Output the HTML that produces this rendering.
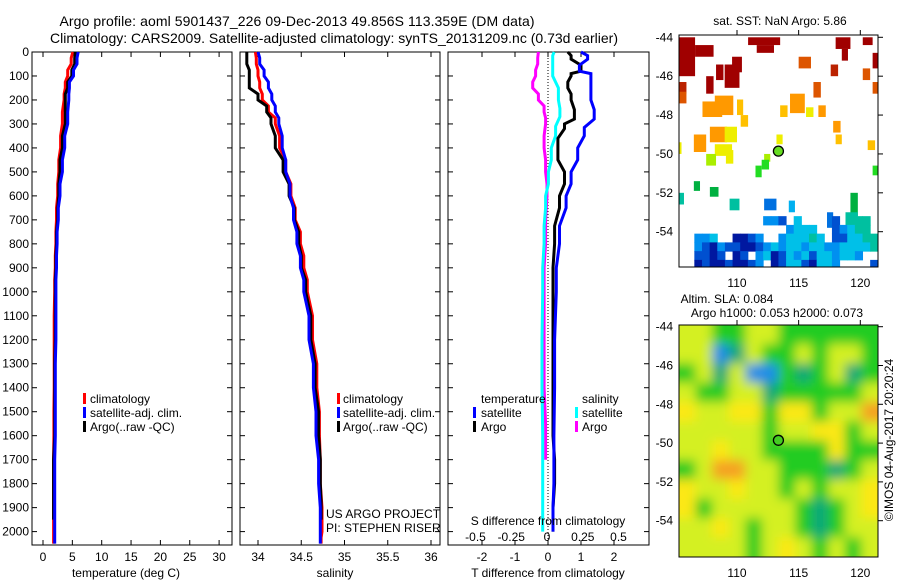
<!DOCTYPE html>
<html><head><meta charset="utf-8">
<style>
html,body{margin:0;padding:0;background:#fff;}
svg{display:block;font-family:"Liberation Sans",sans-serif;}
text{fill:#000;}
</style></head>
<body>
<svg id="fig" width="900" height="580" viewBox="0 0 900 580">
<defs>
<filter id="blur" x="-10%" y="-10%" width="120%" height="120%"><feGaussianBlur stdDeviation="5.5"/></filter>
<clipPath id="clipTop"><rect x="679" y="35" width="199" height="232"/></clipPath>
<clipPath id="clipBot"><rect x="679" y="325" width="199" height="232"/></clipPath>
</defs>
<text x="297" y="26" font-size="14" text-anchor="middle" textLength="475">Argo profile: aoml 5901437_226 09-Dec-2013 49.856S 113.359E (DM data)</text>
<text x="334" y="43" font-size="14" text-anchor="middle" textLength="568">Climatology: CARS2009. Satellite-adjusted climatology: synTS_20131209.nc (0.73d earlier)</text>
<g id="g"></g>
</svg>
<script>
// ---------- data ----------
const depthT = [0,50,100,150,200,300,400,500,600,700,800,900,1000,1200,1400,1600,1800,2000,2050];
const climT  = [5.1,4.8,4.2,3.8,3.6,3.3,3.0,2.7,2.5,2.3,2.2,2.1,2.0,1.9,1.9,1.85,1.8,1.8,1.8];
const satT   = [6.0,5.8,5.2,4.5,4.4,4.2,3.7,3.3,2.9,2.6,2.4,2.3,2.2,2.2,2.1,2.1,2.0,2.0,2.0];
const argoTdepth = [0,50,100,150,200,300,400,500,600,700,800,900,1000,1200,1400,1600,1800,1950];
const argoT  = [5.5,5.4,4.9,4.2,3.8,3.8,3.3,2.9,2.7,2.5,2.3,2.2,2.1,2.1,2.0,2.0,1.8,1.8];
const depthS = [0,50,100,150,200,250,300,400,500,600,700,800,900,1000,1200,1400,1600,1800,2000,2050];
const climS  = [33.97,33.98,34.0,34.02,34.05,34.12,34.2,34.25,34.32,34.38,34.43,34.49,34.53,34.57,34.63,34.68,34.71,34.72,34.74,34.73];
const satS   = [34.0,34.02,34.07,34.12,34.16,34.2,34.24,34.28,34.32,34.37,34.41,34.45,34.49,34.53,34.59,34.64,34.67,34.70,34.72,34.72];
const argoSdepth = [0,50,100,150,200,250,300,400,500,600,700,800,900,1000,1200,1400,1600,1800,1950];
const argoS  = [33.87,33.87,33.9,33.9,34.0,34.1,34.15,34.2,34.29,34.36,34.42,34.47,34.5,34.55,34.61,34.66,34.7,34.72,34.73];
const dDepthSatT = [0,30,80,100,200,280,350,450,550,650,800,1000,1400,1800,2000];
const dSatT  = [1.0,1.2,0.95,1.3,1.3,1.4,1.1,0.9,0.7,0.55,0.35,0.25,0.2,0.18,0.15];
const dDepthArgoT = [0,30,80,100,150,200,280,320,400,450,550,650,800,1000,1600,1800,2000];
const dArgoT = [0.6,0.7,1.0,0.7,0.6,0.7,0.8,0.5,0.3,0.3,0.5,0.35,0.2,0.15,0.15,0.2,0.15];
const dDepthSatS = [0,30,100,200,270,350,450,550,650,800,1000,1400,1800,2000];
const dSatS  = [0.05,0.04,0.04,0.08,0.09,0.06,0.03,0.01,-0.01,-0.02,-0.03,-0.035,-0.03,-0.03];
const dDepthArgoS = [0,50,100,150,200,250,300,400,500,600,800,1000,1400,1700];
const dArgoS = [-0.06,-0.065,-0.08,-0.1,-0.06,-0.02,-0.01,-0.02,-0.01,0,-0.01,-0.02,-0.02,-0.01];
const depthTicks = [0,100,200,300,400,500,600,700,800,900,1000,1100,1200,1300,1400,1500,1600,1700,1800,1900,2000];
const tempTicks = [0,5,10,15,20,25,30];
const salTicks = [34,34.5,35,35.5,36];
const salTickLabels = ["34","34.5","35","35.5","36"];
const dTTicks = [-2,-1,0,1,2];
const dSTicks = [-0.5,-0.25,0,0.25,0.5];
const dSTickLabels = ["-0.5","-0.25","0","0.25","0.5"];
const latTicks = [-44,-46,-48,-50,-52,-54];
const lonTicks = [110,115,120];
const argoLon = 113.359, argoLat = -49.856;
// SST blocks: lon, lat(top), width deg, height deg, SST value
const sstLon = [105.3,106.6,108.3,109,109.6,107.5,105.3,110.9,111.6,118,120.2,118.5,121,117.6,115,116.2,120.2,121,105.3,107.2,108.2,114.3,113.5,116.6,117.8,106.5,107.8,110,110.3,115.6,118,120.6,109,108.2,109.1,113.2,105.3,112.2,107.5,111.5,112.0,121,106.5,107.8,119.2,105.3,109.4,118.8,120.8,112.2,114.2,117.3];
const sstLat = [-44,-44.4,-45.4,-45.4,-45,-46.0,-46.3,-44,-44.4,-44,-44,-44.6,-44.8,-45.4,-45,-46.3,-45.6,-46.3,-46.8,-47.3,-47,-46.9,-47.5,-47.5,-48.3,-49,-48.6,-47.2,-48.0,-47.6,-49,-49.3,-48.6,-49.5,-49.8,-49.0,-49.4,-50.0,-50.0,-50.6,-50.3,-50.6,-51.4,-51.7,-52.0,-52.0,-52.3,-53,-54.3,-52.3,-52.4,-53];
const sstW = [1.3,1.5,0.6,1.2,0.8,0.6,0.6,2.6,1.4,1.2,0.8,0.5,0.5,0.6,1,0.6,0.6,0.5,0.6,1.6,1.5,1.2,0.6,0.6,0.6,1,1.4,0.5,0.6,0.6,0.5,0.6,1.0,1.4,0.6,0.5,0.2,0.5,0.8,0.5,0.6,0.4,0.5,0.7,0.6,0.4,0.8,1.0,0.6,1.0,0.5,0.5];
const sstH = [2.0,0.6,0.8,1.2,0.8,0.9,0.6,0.4,0.4,0.6,0.4,0.6,0.8,0.6,0.6,0.8,0.6,0.6,0.6,0.8,1.0,1.0,0.6,0.6,0.6,0.9,0.8,0.8,0.6,0.5,0.5,0.5,0.8,0.6,0.7,0.5,0.6,0.4,0.6,0.6,0.5,0.5,0.5,0.5,1.2,0.6,0.6,1.0,0.6,0.6,0.6,0.8];
const sstVal = [9.5,9.5,9.5,9.5,9.5,9.5,9,9.5,9.5,9.5,9.5,9.5,9.5,9,8.3,8.2,8.3,8.3,8.3,7.5,7.6,7.6,7.3,7.4,7.5,7.4,7.5,7.2,7.1,7,7.1,7.1,7,7,6.8,6.7,6.7,6.4,6.3,5.8,5.9,5.8,5.7,5.6,5.5,5.2,5.2,5.1,5,4.3,4.4,4];
// southern SST speckle grid (0=no data, 1 coldest .. 5 warmest class), rows from lat -53.2 southward
const sstSpeckle = [
 [0,0,0,0,0,0,0,0,0,0,0,3,3,2,0,4,0,0,0,0,2,0,5,5,5,0],
 [0,0,0,0,0,0,0,0,0,0,0,0,0,0,3,4,4,4,0,0,2,3,4,5,5,0],
 [0,0,3,3,4,0,0,1,1,2,3,0,0,3,4,4,4,5,4,0,2,2,4,4,5,5],
 [0,0,3,2,1,3,2,2,1,1,2,3,4,3,4,4,3,4,4,3,3,4,4,4,4,5],
 [0,0,2,2,1,2,0,1,2,0,3,4,1,2,4,3,4,2,4,4,3,4,4,3,0,0],
 [0,0,1,2,1,1,2,1,1,2,3,0,1,2,4,4,2,1,4,4,3,0,0,0,0,2]
];
// SLA grid (rows from north to south, columns west to east), anomaly classes
const slaRows = [
 [1,1,0,0,1,1,0,0,0,0,0,0],
 [1,1,-2,-1,1,0,0,1,0,1,1,0],
 [0,1,-1,1,-2,-2,0,-1,0,1,-1,0],
 [1,0,0,1,1,-1,0,0,0,0,0,1],
 [2,1,1,2,2,0,2,2,0,1,1,3],
 [1,1,1,1,1,0,1,1,2,2,0,1],
 [1,1,2,1,1,0,0,0,0,2,0,0],
 [0,1,3,3,1,1,0,0,0,-1,0,1],
 [2,1,1,2,1,1,0,1,0,1,1,2],
 [2,0,1,1,1,1,1,0,-1,0,1,2],
 [1,1,2,1,0,1,1,0,-1,0,1,1],
 [1,1,1,1,0,1,2,1,0,1,0,1]
];

// ---------- helpers ----------
const NS='http://www.w3.org/2000/svg';
const G=document.getElementById('g');
function mk(tag,attrs,parent){const e=document.createElementNS(NS,tag);for(const k in attrs)e.setAttribute(k,attrs[k]);(parent||G).appendChild(e);return e;}
const yD = d => 52 + d*0.2398;
const xT = v => 43 + v*5.87;
const xS = v => 258 + (v-34)*86.5;
const xdT = v => 548 + v*33;
const xdS = v => 547 + v*143;
const lonX = lon => 737 + (lon-110)*12.33;
const latYtop = lat => 37.3 + (-44-lat)*19.44;
const latYbot = lat => 326.7 + (-44-lat)*19.4;

function stepLine(depths, vals, xf, color, name){
  let pts=[];
  for(let i=0;i<depths.length;i++){
    const x=xf(vals[i]);
    if(i>0) pts.push(x.toFixed(1)+','+yD(depths[i-1]+ (depths[i]-depths[i-1])*0.5).toFixed(1));
    pts.push(x.toFixed(1)+','+yD(depths[i]).toFixed(1));
  }
  const p=mk('polyline',{points:pts.join(' '),fill:'none',stroke:color,'stroke-width':3});
  
  
}
function txt(x,y,s,size,anchor,name){
  const t=mk('text',{x:x,y:y,'font-size':size,'text-anchor':anchor||'start'});
  t.textContent=s;
  
  
  return t;
}
function frame(x0,x1,name){
  const r=mk('rect',{x:x0,y:52,width:x1-x0,height:493,fill:'none',stroke:'#000','stroke-width':1});
  
  
  for(const d of depthTicks){
    mk('line',{x1:x0,x2:x0+5,y1:yD(d),y2:yD(d),stroke:'#000'});
    mk('line',{x1:x1-5,x2:x1,y1:yD(d),y2:yD(d),stroke:'#000'});
  }
}
function xticks(arr,xf,labels,name){
  arr.forEach((v,i)=>{
    const x=xf(v);
    mk('line',{x1:x,x2:x,y1:52,y2:57,stroke:'#000'});
    mk('line',{x1:x,x2:x,y1:540,y2:545,stroke:'#000'});
    txt(x,561,labels?labels[i]:String(v),12,'middle',name);
  });
}
function legendBar(x,y,color,name){
  const r=mk('rect',{x:x,y:y-10,width:3,height:11,fill:color});
  
  
}

// ---------- depth labels ----------
for(const d of depthTicks){ txt(29,yD(d)+4,String(d),12,'end','depth-tick-label'); }

// ---------- panel 1: temperature ----------
frame(32,232,'temperature-panel');
xticks(tempTicks,xT,null,'temperature-tick-label');
stepLine(depthT,climT,xT,'#ff0000','clim-temperature-line');
stepLine(argoTdepth,argoT,xT,'#000000','argo-temperature-line');
stepLine(depthT,satT,xT,'#0000ff','sat-temperature-line');
txt(126,577,'temperature (deg C)',12,'middle','temperature-axis-title');
legendBar(83,403,'#ff0000','legend-marker-climatology');
txt(90,403,'climatology',12,'start','legend-climatology');
legendBar(83,417,'#0000ff','legend-marker-satellite');
txt(90,417,'satellite-adj. clim.',12,'start','legend-satellite');
legendBar(83,431,'#000000','legend-marker-argo');
txt(90,431,'Argo(..raw -QC)',12,'start','legend-argo');

// ---------- panel 2: salinity ----------
frame(240,440,'salinity-panel');
xticks(salTicks,xS,salTickLabels,'salinity-tick-label');
stepLine(depthS,climS,xS,'#ff0000','clim-salinity-line');
stepLine(argoSdepth,argoS,xS,'#000000','argo-salinity-line');
stepLine(depthS,satS,xS,'#0000ff','sat-salinity-line');
txt(335,577,'salinity',12,'middle','salinity-axis-title');
legendBar(337,403,'#ff0000','legend-marker-climatology-2');
txt(343,403,'climatology',12,'start','legend-climatology-2');
legendBar(337,417,'#0000ff','legend-marker-satellite-2');
txt(343,417,'satellite-adj. clim.',12,'start','legend-satellite-2');
legendBar(337,431,'#000000','legend-marker-argo-2');
txt(343,431,'Argo(..raw -QC)',12,'start','legend-argo-2');
txt(326,518,'US ARGO PROJECT',12,'start','project-label');
txt(326,532,'PI: STEPHEN RISER',12,'start','pi-label');

// ---------- panel 3: differences ----------
frame(448,649,'difference-panel');
dTTicks.forEach(v=>{const x=xdT(v);mk('line',{x1:x,x2:x,y1:52,y2:57,stroke:'#000'});mk('line',{x1:x,x2:x,y1:540,y2:545,stroke:'#000'});txt(x,561,String(v),12,'middle','t-diff-tick-label');});
dSTicks.forEach((v,i)=>{txt(xdS(v),541,dSTickLabels[i],12,'middle','s-diff-tick-label');});
mk('line',{x1:548,x2:548,y1:52,y2:545,stroke:'#000','stroke-dasharray':'1,2'});
stepLine(dDepthArgoS,dArgoS,xdS,'#ff00ff','argo-salinity-diff-line');
stepLine(dDepthSatS,dSatS,xdS,'#00ffff','sat-salinity-diff-line');
stepLine(dDepthArgoT,dArgoT,xdT,'#000000','argo-temperature-diff-line');
stepLine(dDepthSatT,dSatT,xdT,'#0000ff','sat-temperature-diff-line');
txt(548,525,'S difference from climatology',12,'middle','s-diff-axis-title');
txt(548,577,'T difference from climatology',12,'middle','t-diff-axis-title');
txt(481,403,'temperature',12,'start','legend-temperature-header');
legendBar(473,417,'#0000ff','legend-marker-t-satellite');
txt(481,417,'satellite',12,'start','legend-t-satellite');
legendBar(473,431,'#000000','legend-marker-t-argo');
txt(481,431,'Argo',12,'start','legend-t-argo');
txt(582,403,'salinity',12,'start','legend-salinity-header');
legendBar(575,417,'#00ffff','legend-marker-s-satellite');
txt(582,417,'satellite',12,'start','legend-s-satellite');
legendBar(575,431,'#ff00ff','legend-marker-s-argo');
txt(582,431,'Argo',12,'start','legend-s-argo');

// ---------- SST map ----------
const sstStops=[[3.2,'#000a90'],[3.7,'#0030c0'],[4.2,'#0070e0'],[4.6,'#00b0f0'],[5.0,'#00c0a0'],[5.5,'#00b040'],[5.9,'#22dd22'],[6.4,'#aaee00'],[6.8,'#eeee00'],[7.2,'#ffc000'],[7.6,'#ff9900'],[8.3,'#dd5500'],[9,'#bb2200'],[9.5,'#a00000']];
function sstColor(v){let best=sstStops[0];for(const s of sstStops){if(Math.abs(s[0]-v)<Math.abs(best[0]-v))best=s;}return best[1];}
const speckleCols=['none','#0018a0','#0050d0','#0090f0','#00c0e8','#00c0a0'];
const topMap=mk('g',{'clip-path':'url(#clipTop)'});


for(let i=0;i<sstLon.length;i++){
  const x=lonX(sstLon[i]), y=latYtop(sstLat[i]);
  const c=mk('rect',{x:x,y:y,width:sstW[i]*12.33,height:sstH[i]*19.44,fill:sstColor(sstVal[i])},topMap);
  
  
}
sstSpeckle.forEach((row,r)=>row.forEach((v,c)=>{
  if(!v) return;
  const x=lonX(105.3+c*0.62), y=latYtop(-53.2-r*0.45);
  const cell=mk('rect',{x:x,y:y,width:0.62*12.33+0.5,height:0.45*19.44+0.5,fill:speckleCols[v]},topMap);
  
  
}));
mk('rect',{x:679,y:35,width:199,height:232,fill:'none',stroke:'#000'});
const dot1=mk('circle',{cx:lonX(argoLon),cy:latYtop(argoLat),r:5,fill:'#66dd22',stroke:'#000','stroke-width':1.3});


txt(780,25,'sat. SST: NaN Argo: 5.86',12,'middle','sst-map-title');

// ---------- SLA map ----------
const slaCols={'-2':'#1a8ce8','-1':'#10a878','0':'#22cc22','1':'#d4f020','2':'#fce818','3':'#f5a020'};
const botMap=mk('g',{'clip-path':'url(#clipBot)'});


mk('rect',{x:679,y:325,width:199,height:232,fill:'#22cc22'},botMap);
const blurG=mk('g',{filter:'url(#blur)'},botMap);
const cw=(121.43-105.3)/12, ch=11.95/12;
slaRows.forEach((row,r)=>row.forEach((v,c)=>{
  const x0=lonX(105.3+c*cw)-(c===0?12:0), y0=latYbot(-43.9-r*ch)-(r===0?12:0);
  const w=cw*12.33+(c===0?12:0)+(c===11?12:0)+0.5, h=ch*19.4+(r===0?12:0)+(r===11?12:0)+0.5;
  const cell=mk('rect',{x:x0,y:y0,width:w,height:h,fill:slaCols[String(v)]},blurG);
  
  
}));
mk('rect',{x:679,y:325,width:199,height:232,fill:'none',stroke:'#000'});
const dot2=mk('circle',{cx:lonX(argoLon),cy:latYbot(argoLat),r:5,fill:'#44cc22',stroke:'#000','stroke-width':1.3});


txt(727,303,'Altim. SLA: 0.084',12,'middle','sla-map-title-1');
txt(777,317,'Argo h1000: 0.053 h2000: 0.073',12,'middle','sla-map-title-2');

// map ticks
for(const lat of latTicks){
  txt(673,latYtop(lat)+4,String(lat),12,'end','lat-tick-label');
  txt(673,latYbot(lat)+4,String(lat),12,'end','lat-tick-label');
  mk('line',{x1:878,x2:883,y1:latYtop(lat),y2:latYtop(lat),stroke:'#000'});
  mk('line',{x1:878,x2:883,y1:latYbot(lat),y2:latYbot(lat),stroke:'#000'});
}
for(const lon of lonTicks){
  const x=lonX(lon);
  txt(x,287,String(lon),12,'middle','lon-tick-label');
  txt(x,577,String(lon),12,'middle','lon-tick-label');
  mk('line',{x1:x,x2:x,y1:30,y2:35,stroke:'#000'});
  mk('line',{x1:x,x2:x,y1:320,y2:325,stroke:'#000'});
}
const cp=txt(0,0,'©IMOS 04-Aug-2017 20:20:24',12,'middle','imos-credit');
cp.setAttribute('transform','translate(893,440) rotate(-90)');
</script>
</body></html>
